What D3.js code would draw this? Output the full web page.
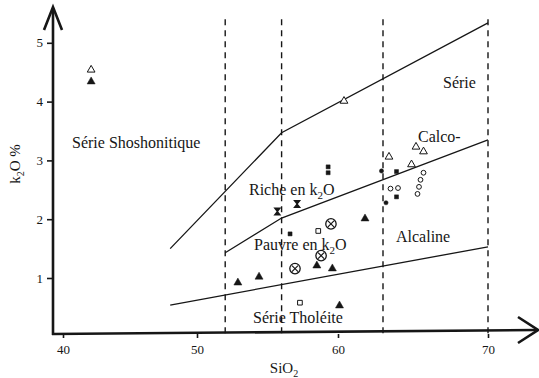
<!DOCTYPE html>
<html><head><meta charset="utf-8">
<script src="https://cdn.jsdelivr.net/npm/d3@7"></script>
<style>
html,body{margin:0;padding:0;background:#fff;}
svg{display:block;}
text{font-family:"Liberation Serif","Times New Roman",serif;fill:#161616;}
</style></head>
<body>
<svg id="c" width="539" height="378"></svg>
<script>
// ---- data (SiO2 %, K2O %) ----
const xTicks = [40, 50, 60, 70];
const yTicks = [1, 2, 3, 4, 5];
const dividers = [52, 56, 63, 70];
const shoshoniteLine = [[48, 1.5], [56, 3.47], [70, 5.34]];
const highKLine = [[52, 1.43], [56, 2.02], [70, 3.35]];
const tholeiiteLine = [[48, 0.54], [70, 1.53]];

const filledTriangles = [[42.1, 4.34], [52.9, 0.92], [54.4, 1.02], [58.5, 1.21], [59.6, 1.16], [60.1, 0.53], [61.8, 2.01]];
const openTriangles = [[42.1, 4.54], [60.4, 4.01], [63.4, 3.06], [65.2, 3.23], [65.7, 3.15], [64.9, 2.93]];
const filledSquares = [[59.3, 2.89], [59.3, 2.79], [56.6, 1.75], [63.9, 2.81], [63.9, 2.38]];
const openSquares = [[58.6, 1.80], [57.3, 0.58]];
const filledCircles = [[62.9, 2.82], [63.2, 2.28]];
const openCircles = [[65.7, 2.79], [65.5, 2.67], [65.4, 2.55], [65.3, 2.43], [63.5, 2.52], [64.0, 2.53]];
const circledCrosses = [[59.5, 1.92], [58.8, 1.38], [56.95, 1.16]];
const hourglasses = [[55.7, 2.13], [57.1, 2.26]];

const svg = d3.select("#c");
const ink = "#161616";

// scanned figure: axis spacing is slightly uneven, so a piecewise scale is used
const x = d3.scaleLinear().domain(xTicks).range([63, 197, 338, 488]);
const y = d3.scaleLinear().domain([0, 5]).range([336.8, 42.8]);

// axes ticks
const gx = svg.append("g").attr("transform", "translate(0,334)")
  .call(d3.axisBottom(x).tickValues(xTicks).tickFormat(d3.format("d")).tickSize(4).tickPadding(7));
const gy = svg.append("g").attr("transform", "translate(53,0)")
  .call(d3.axisLeft(y).tickValues(yTicks).tickFormat(d3.format("d")).tickSize(6).tickPadding(4));
[gx, gy].forEach(g => {
  g.attr("font-family", null);
  g.select(".domain").remove();
  g.selectAll("line").attr("stroke", ink).attr("stroke-width", 1.6);
  g.selectAll("text").attr("font-size", 13).attr("fill", ink);
});

// axis lines with arrows
svg.append("path").attr("d", "M53,335 L53,10").attr("stroke", ink).attr("stroke-width", 2.6).attr("fill", "none");
svg.append("path").attr("d", "M44,30 L53,7 L62,30").attr("stroke", ink).attr("stroke-width", 2.6).attr("fill", "none").attr("stroke-linejoin", "miter");
svg.append("path").attr("d", "M52,334 L536,330").attr("stroke", ink).attr("stroke-width", 2.6).attr("fill", "none");
svg.append("path").attr("d", "M518,317 L538,330 L518,343").attr("stroke", ink).attr("stroke-width", 2.6).attr("fill", "none").attr("stroke-linejoin", "miter");

// dashed SiO2 dividers
svg.append("g").selectAll("line").data(dividers).join("line")
  .attr("x1", d => x(d)).attr("x2", d => x(d))
  .attr("y1", y(5.4)).attr("y2", y(0.05))
  .attr("stroke", ink).attr("stroke-width", 1.4).attr("stroke-dasharray", "6,5");

// boundary lines
const line = d3.line().x(d => x(d[0])).y(d => y(d[1]));
[shoshoniteLine, highKLine, tholeiiteLine].forEach(l => {
  svg.append("path").attr("d", line(l)).attr("fill", "none").attr("stroke", ink).attr("stroke-width", 1.3);
});

// markers
const g = svg.append("g");
function sym(data, type, size, filled) {
  g.selectAll(null).data(data).join("path")
    .attr("transform", d => `translate(${x(d[0])},${y(d[1])})`)
    .attr("d", d3.symbol().type(type).size(size))
    .attr("fill", filled ? ink : "#fff")
    .attr("stroke", ink).attr("stroke-width", filled ? 0.5 : 1);
}
sym(filledTriangles, d3.symbolTriangle, 28, true);
sym(openTriangles, d3.symbolTriangle, 26, false);
sym(filledSquares, d3.symbolSquare, 16, true);
sym(openSquares, d3.symbolSquare, 22, false);
sym(filledCircles, d3.symbolCircle, 14, true);
sym(openCircles, d3.symbolCircle, 18, false);

g.selectAll(null).data(circledCrosses).join("g")
  .attr("transform", d => `translate(${x(d[0])},${y(d[1])})`)
  .each(function () {
    const s = d3.select(this);
    s.append("circle").attr("r", 5.2).attr("fill", "#fff").attr("stroke", ink).attr("stroke-width", 1.3);
    s.append("path").attr("d", "M-3,-3 L3,3 M-3,3 L3,-3").attr("stroke", ink).attr("stroke-width", 1.2);
  });
g.selectAll(null).data(hourglasses).join("path")
  .attr("transform", d => `translate(${x(d[0])},${y(d[1])})`)
  .attr("d", "M-4,-4 L4,-4 L0.8,0 L4,4 L-4,4 L-0.8,0 Z")
  .attr("fill", ink);

// region labels
function label(px, py, parts) {
  const t = svg.append("text").attr("x", px).attr("y", py).attr("font-size", 16);
  parts.forEach(p => {
    const ts = t.append("tspan").text(p.t);
    if (p.sub) ts.attr("font-size", 11).attr("dy", 4);
    if (p.back) ts.attr("dy", -4);
  });
  return t;
}
label(72, 148, [{t: "Série Shoshonitique"}]);
label(443, 88, [{t: "Série"}]);
label(418, 142, [{t: "Calco-"}]);
label(249, 195, [{t: "Riche en k"}, {t: "2", sub: true}, {t: "O", back: true}]);
label(254, 250, [{t: "Pauvre en k"}, {t: "2", sub: true}, {t: "O", back: true}]);
label(396, 242, [{t: "Alcaline"}]);
label(253, 323, [{t: "Série Tholéite"}]);

// axis titles
const xt = svg.append("text").attr("x", 284).attr("y", 373).attr("text-anchor", "middle").attr("font-size", 15);
xt.append("tspan").text("SiO");
xt.append("tspan").text("2").attr("font-size", 10).attr("dy", 4);

const yt = svg.append("text").attr("transform", "translate(20,164) rotate(-90)").attr("text-anchor", "middle").attr("font-size", 15);
yt.append("tspan").text("k");
yt.append("tspan").text("2").attr("font-size", 10).attr("dy", 4);
yt.append("tspan").text("O %").attr("dy", -4);
</script>
</body></html>
